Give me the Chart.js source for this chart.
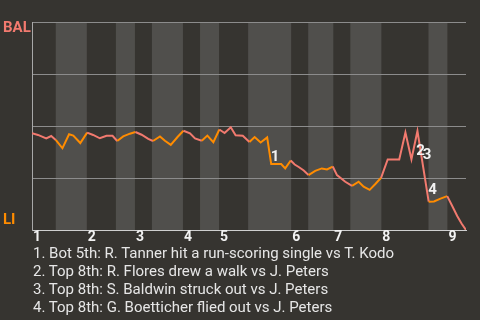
<!DOCTYPE html>
<html>
<head>
<meta charset="utf-8">
<script src="https://cdn.jsdelivr.net/npm/chart.js@4.4.1/dist/chart.umd.min.js"></script>
<style>
  html, body { margin: 0; padding: 0; background: #363430; }
  #wrap { position: relative; width: 480px; height: 320px; }
  #notes { position: absolute; left: 33px; top: 244px; font: 15px Roboto, sans-serif; line-height: 18px; color: #e6e6e6; white-space: nowrap; }
</style>
</head>
<body>
<div id="wrap">
  <canvas id="chart" width="480" height="320"></canvas>
  <div id="notes"></div>
</div>
<script>
// plays along the game, BAL win probability (%) after each one
const playX = [0, 0.97, 2.29, 3.10, 3.83, 4.91, 5.98, 6.66, 7.79, 8.89,
  9.86, 10.94, 12.02, 12.99, 13.74, 14.71, 15.79, 16.68, 17.68, 18.75,
  19.51, 20.64, 21.44, 22.38, 23.47, 24.43, 25.48, 26.29, 27.38, 28.28,
  29.25, 30.22, 31.06, 32.06, 32.84, 34.0, 35.07, 35.91, 36.88, 37.93,
  38.58, 40.19, 40.84, 41.73, 42.37, 43.02, 43.83, 44.6, 45.68, 46.74,
  47.58, 48.51, 49.19, 50.53, 51.62, 52.68, 53.49, 54.46, 55.38, 56.30,
  57.37, 59.23, 60.23, 61.2, 62.17, 63.98, 64.84, 65.89, 66.97, 67.74,
  68.58, 69.28, 70.0];
const wpBAL = [46.5, 45.7, 44.0, 45.2, 43.3, 39.3, 46.0, 45.4, 41.8, 46.8,
  45.7, 44.1, 45.3, 45.3, 42.8, 45.0, 46.3, 47.1, 45.8, 43.8,
  42.8, 45.0, 42.9, 40.9, 44.7, 47.7, 46.5, 44.0, 42.9, 45.4,
  42.2, 48.3, 46.6, 49.4, 45.5, 45.3, 42.3, 44.7, 42.1, 44.5,
  31.7, 31.7, 29.6, 33.4, 31.5, 30.3, 28.6, 26.4, 28.4, 29.6,
  29.1, 30.5, 26.4, 23.2, 21.2, 23.2, 20.8, 19.3, 22.1, 25.1,
  33.9, 33.9, 46.9, 34.0, 47.6, 13.6, 13.7, 15.1, 16.3, 11.8,
  6.7, 3.1, 0];

// where each half inning starts
const inningLabels = ['1', '2', '3', '4', '5', '6', '7', '8', '9'];
const topStarts = [0, 8.84, 16.6, 24.35, 30.17, 41.8, 48.6, 56.35, 67.0];
const botStarts = [3.83, 13.53, 19.34, 27.1, 34.86, 44.55, 51.34, 63.95];
const gameEnd = 70;

// key moments
const eventNums = ['1', '2', '3', '4'];
const eventX = [39.2, 62.65, 63.7, 64.6];
const eventY = [35.1, 38.0, 36.1, 19.2];
const eventNotes = [
  '1. Bot 5th: R. Tanner hit a run-scoring single vs T. Kodo',
  '2. Top 8th: R. Flores drew a walk vs J. Peters',
  '3. Top 8th: S. Baldwin struck out vs J. Peters',
  '4. Top 8th: G. Boetticher flied out vs J. Peters'
];

const balColor = '#f27a6f';
const liColor = '#ff8c00';

function halfColor(v) {
  for (let i = 0; i < botStarts.length; i++) {
    const end = i + 1 < topStarts.length ? topStarts[i + 1] : gameEnd;
    if (v >= botStarts[i] && v < end) return liColor;
  }
  return balColor;
}

const inningBands = {
  id: 'inningBands',
  beforeDraw(chart) {
    const { ctx, chartArea: a, scales: { x } } = chart;
    ctx.save();
    ctx.fillStyle = '#504f4c';
    botStarts.forEach((b, i) => {
      const e = i + 1 < topStarts.length ? topStarts[i + 1] : gameEnd;
      const x0 = x.getPixelForValue(b);
      const x1 = x.getPixelForValue(e);
      ctx.fillRect(x0, a.top, x1 - x0, a.bottom - a.top);
    });
    ctx.restore();
  }
};

const textMarks = {
  id: 'textMarks',
  afterDatasetsDraw(chart) {
    const { ctx, chartArea: a, scales: { x, y } } = chart;
    ctx.save();
    ctx.font = 'bold 15px Roboto, sans-serif';
    ctx.textBaseline = 'middle';
    ctx.textAlign = 'center';
    ctx.fillStyle = '#f2f2f2';
    eventNums.forEach((n, i) => {
      ctx.fillText(n, x.getPixelForValue(eventX[i]), y.getPixelForValue(eventY[i]));
    });
    ctx.textAlign = 'left';
    ctx.fillStyle = balColor;
    ctx.fillText('BAL', 3, a.top + 6);
    ctx.fillStyle = liColor;
    ctx.fillText('LI', 3, a.bottom - 10);
    ctx.restore();
  }
};

document.getElementById('notes').innerHTML = eventNotes.map(t => '<div>' + t + '</div>').join('');

new Chart(document.getElementById('chart'), {
  type: 'line',
  data: {
    datasets: [{
      data: playX.map((v, i) => ({ x: v, y: wpBAL[i] })),
      borderColor: balColor,
      borderWidth: 2,
      pointRadius: 0,
      tension: 0,
      segment: {
        borderColor: c => halfColor((c.p0.parsed.x + c.p1.parsed.x) / 2)
      }
    }]
  },
  options: {
    responsive: false,
    animation: false,
    devicePixelRatio: 1,
    layout: { padding: { top: 22, right: 14, left: 0, bottom: 0 } },
    plugins: { legend: { display: false }, tooltip: { enabled: false } },
    scales: {
      x: {
        type: 'linear',
        min: 0,
        max: gameEnd,
        afterBuildTicks: s => { s.ticks = topStarts.map(v => ({ value: v })); },
        afterFit: s => { s.height = 90; },
        grid: { display: false, drawTicks: false },
        border: { color: '#cfcfcf', width: 1 },
        ticks: {
          autoSkip: false,
          maxRotation: 0,
          align: 'start',
          labelOffset: 1,
          padding: 0,
          color: '#f2f2f2',
          font: { family: 'Roboto', size: 14, weight: 'bold', lineHeight: 1 },
          callback: (v, i) => inningLabels[i]
        }
      },
      y: {
        min: 0,
        max: 100,
        afterFit: s => { s.width = 32; },
        ticks: { display: false, stepSize: 25 },
        grid: { color: '#8c8c8c', drawTicks: false, lineWidth: 1 },
        border: { color: '#a8a8a8' }
      }
    }
  },
  plugins: [inningBands, textMarks]
});
</script>
</body>
</html>
